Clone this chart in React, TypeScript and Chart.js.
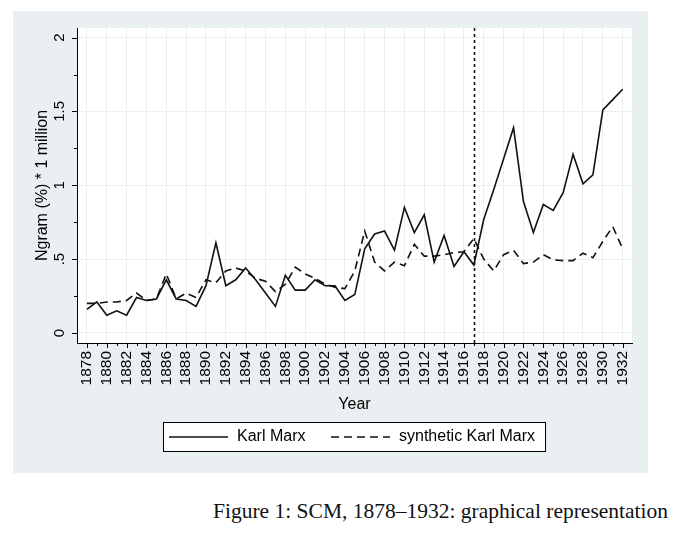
import React, { useEffect, useRef } from 'react';
import { Chart, registerables } from 'chart.js';

Chart.register(...registerables);

// ---------- data ----------
const years = [
  1878, 1879, 1880, 1881, 1882, 1883, 1884, 1885, 1886, 1887,
  1888, 1889, 1890, 1891, 1892, 1893, 1894, 1895, 1896, 1897,
  1898, 1899, 1900, 1901, 1902, 1903, 1904, 1905, 1906, 1907,
  1908, 1909, 1910, 1911, 1912, 1913, 1914, 1915, 1916, 1917,
  1918, 1919, 1920, 1921, 1922, 1923, 1924, 1925, 1926, 1927,
  1928, 1929, 1930, 1931, 1932,
];

const karlMarx = [
  0.16, 0.21, 0.12, 0.15, 0.12, 0.24, 0.22, 0.23, 0.36, 0.23,
  0.22, 0.18, 0.32, 0.61, 0.32, 0.36, 0.44, 0.36, 0.27, 0.18,
  0.39, 0.29, 0.29, 0.36, 0.32, 0.32, 0.22, 0.26, 0.57, 0.67,
  0.69, 0.56, 0.85, 0.68, 0.80, 0.48, 0.66, 0.45, 0.55, 0.46,
  0.77, 0.97, 1.18, 1.39, 0.89, 0.68, 0.87, 0.83, 0.95, 1.21,
  1.01, 1.07, 1.51, 1.58, 1.65,
];

const syntheticKarlMarx = [
  0.20, 0.20, 0.21, 0.21, 0.22, 0.27, 0.22, 0.23, 0.40, 0.23,
  0.27, 0.24, 0.36, 0.34, 0.42, 0.44, 0.42, 0.37, 0.35, 0.28,
  0.33, 0.445, 0.40, 0.37, 0.33, 0.31, 0.30, 0.42, 0.69, 0.48,
  0.42, 0.48, 0.455, 0.60, 0.52, 0.52, 0.53, 0.545, 0.55, 0.64,
  0.50, 0.42, 0.53, 0.56, 0.47, 0.48, 0.53, 0.495, 0.49, 0.49,
  0.54, 0.51, 0.62, 0.72, 0.57,
];

const seriesLabels = ['Karl Marx', 'synthetic Karl Marx'];
const treatmentYear = 1917;
const yMajorTicks = [0, 0.5, 1, 1.5, 2];
const yTickLabels = ['0', '.5', '1', '1.5', '2'];
const yMinorTicks = [0.25, 0.75, 1.25, 1.75];
const xLabelEvery = 2;
const yTitle = 'Ngram (%) * 1 million';
const xTitle = 'Year';
const caption = 'Figure 1: SCM, 1878\u20131932: graphical representation';

// ---------- styles ----------
const FONT = '"Liberation Sans", Arial, Helvetica, sans-serif';
const PANEL = '#eaeff1';
const GRID = '#eaeff2';
const INK = '#111111';

const stataPlugin = {
  id: 'stataLook',
  beforeDraw(chart: any) {
    const { ctx, chartArea: a } = chart;
    ctx.save();
    ctx.fillStyle = '#ffffff';
    ctx.fillRect(0, 0, chart.width, chart.height);
    ctx.fillStyle = PANEL;
    ctx.fillRect(13, 11, 635, 462);
    ctx.fillStyle = '#ffffff';
    ctx.fillRect(a.left, a.top, a.right - a.left, a.bottom - a.top);
    ctx.restore();
  },
  afterDraw(chart: any) {
    const { ctx, chartArea: a, scales } = chart;
    const xs = scales.x;
    const ys = scales.y;
    ctx.save();
    ctx.strokeStyle = '#000';
    ctx.lineWidth = 1;
    // x tick marks (major at labelled years, minor between)
    years.forEach((yr) => {
      const px = Math.round(xs.getPixelForValue(yr)) + 0.5;
      const len = yr % xLabelEvery === 0 ? 5 : 3;
      ctx.beginPath();
      ctx.moveTo(px, a.bottom);
      ctx.lineTo(px, a.bottom + len);
      ctx.stroke();
    });
    // y tick marks
    yMajorTicks.forEach((v) => {
      const py = Math.round(ys.getPixelForValue(v)) + 0.5;
      ctx.beginPath();
      ctx.moveTo(a.left - 5, py);
      ctx.lineTo(a.left, py);
      ctx.stroke();
    });
    yMinorTicks.forEach((v) => {
      const py = Math.round(ys.getPixelForValue(v)) + 0.5;
      ctx.beginPath();
      ctx.moveTo(a.left - 3, py);
      ctx.lineTo(a.left, py);
      ctx.stroke();
    });
    // y tick labels, rotated
    ctx.fillStyle = '#000';
    ctx.font = `15px ${FONT}`;
    ctx.textAlign = 'center';
    ctx.textBaseline = 'middle';
    yMajorTicks.forEach((v, i) => {
      const py = ys.getPixelForValue(v);
      ctx.save();
      ctx.translate(a.left - 17, py);
      ctx.rotate(-Math.PI / 2);
      ctx.fillText(yTickLabels[i], 0, 0);
      ctx.restore();
    });
    // treatment line
    const tx = Math.round(xs.getPixelForValue(treatmentYear)) + 0.5;
    ctx.strokeStyle = INK;
    ctx.lineWidth = 1.6;
    ctx.setLineDash([3, 3]);
    ctx.beginPath();
    ctx.moveTo(tx, a.top);
    ctx.lineTo(tx, a.bottom);
    ctx.stroke();
    ctx.setLineDash([]);

    // legend
    const lx = 163, ly = 422, lw = 382, lh = 29;
    ctx.fillStyle = '#ffffff';
    ctx.fillRect(lx, ly, lw, lh);
    ctx.strokeStyle = '#000';
    ctx.lineWidth = 1;
    ctx.strokeRect(lx + 0.5, ly + 0.5, lw, lh);
    const sampleStart = [169, 331];
    const textStart = [237, 399];
    const cy = ly + lh / 2 + 0.5;
    chart.data.datasets.forEach((ds: any, i: number) => {
      ctx.strokeStyle = ds.borderColor;
      ctx.lineWidth = ds.borderWidth;
      ctx.setLineDash(ds.borderDash || []);
      ctx.beginPath();
      ctx.moveTo(sampleStart[i], cy);
      ctx.lineTo(sampleStart[i] + 59, cy);
      ctx.stroke();
      ctx.setLineDash([]);
      ctx.fillStyle = '#000';
      ctx.font = `16px ${FONT}`;
      ctx.textAlign = 'left';
      ctx.textBaseline = 'middle';
      ctx.fillText(ds.label, textStart[i], cy);
    });
    ctx.restore();
  },
};

export default function App() {
  const ref = useRef<HTMLCanvasElement | null>(null);

  useEffect(() => {
    if (!ref.current) return;
    const chart = new Chart(ref.current, {
      type: 'line',
      data: {
        datasets: [
          {
            label: seriesLabels[0],
            data: years.map((x, i) => ({ x, y: karlMarx[i] })),
            borderColor: INK,
            borderWidth: 1.6,
            pointRadius: 0,
            tension: 0,
            fill: false,
          },
          {
            label: seriesLabels[1],
            data: years.map((x, i) => ({ x, y: syntheticKarlMarx[i] })),
            borderColor: INK,
            borderWidth: 1.6,
            borderDash: [8, 5],
            pointRadius: 0,
            tension: 0,
            fill: false,
          },
        ],
      },
      options: {
        responsive: false,
        animation: false,
        devicePixelRatio: 1,
        layout: { padding: { top: 28, left: 0, right: 48, bottom: 66 } },
        plugins: { legend: { display: false }, tooltip: { enabled: false } },
        scales: {
          x: {
            type: 'linear',
            min: 1877,
            max: 1932.94,
            afterBuildTicks: (s: any) => {
              s.ticks = years.map((v) => ({ value: v }));
            },
            afterFit: (s: any) => {
              s.height = 71;
            },
            grid: {
              color: (c: any) =>
                c.tick && c.tick.value % xLabelEvery === 0 ? GRID : 'rgba(0,0,0,0)',
              lineWidth: 1,
              drawTicks: false,
            },
            border: { display: true, color: '#000', width: 1 },
            ticks: {
              autoSkip: false,
              minRotation: 90,
              maxRotation: 90,
              padding: 8,
              color: '#000',
              font: { family: FONT, size: 15.5 },
              callback: (v: any) => (Number(v) % xLabelEvery === 0 ? String(v) : ''),
            },
            title: {
              display: true,
              text: xTitle,
              color: '#000',
              font: { family: FONT, size: 16 },
              padding: { top: 0, bottom: 0 },
            },
          },
          y: {
            type: 'linear',
            min: -0.068,
            max: 2.065,
            afterBuildTicks: (s: any) => {
              s.ticks = yMajorTicks.map((v) => ({ value: v }));
            },
            afterFit: (s: any) => {
              s.width = 77;
            },
            grid: { color: GRID, lineWidth: 1, drawTicks: false },
            border: { display: true, color: '#000', width: 1 },
            ticks: { display: false },
            title: {
              display: true,
              text: yTitle,
              color: '#000',
              font: { family: FONT, size: 16 },
              padding: { top: 33, bottom: 0 },
            },
          },
        },
      },
      plugins: [stataPlugin],
    });
    return () => chart.destroy();
  }, []);

  return (
    <div
      style={{
        position: 'fixed',
        left: 0,
        top: 0,
        width: 680,
        height: 545,
        background: '#ffffff',
        overflow: 'hidden',
      }}
    >
      <canvas
        ref={ref}
        width={680}
        height={480}
        style={{ position: 'absolute', left: 0, top: 0, width: 680, height: 480 }}
      />
      <div
        style={{
          position: 'absolute',
          left: 213,
          top: 499,
          whiteSpace: 'nowrap',
          fontFamily: '"Liberation Serif", "Times New Roman", serif',
          fontSize: 21.5,
          color: '#111',
        }}
      >
        {caption}
      </div>
    </div>
  );
}
